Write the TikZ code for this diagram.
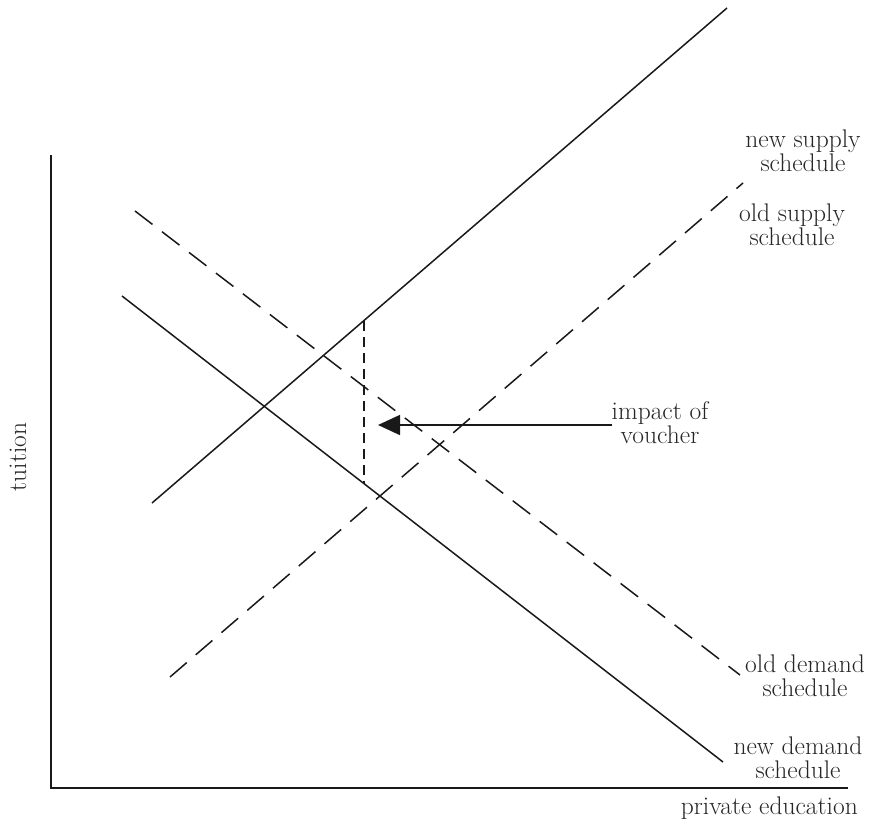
\documentclass[tikz,border=0pt]{standalone}
\usetikzlibrary{arrows.meta}
\begin{document}
\begin{tikzpicture}[x=1pt,y=-1pt,
  ln/.style={line width=1.5pt, black!90},
  dsh/.style={ln, dash pattern=on 22pt off 12pt},
  vdsh/.style={line width=1.3pt, black!90, dash pattern=on 10pt off 6pt},
  lbl/.style={font=\fontsize{25.5}{24}\selectfont, align=center, inner sep=0pt, text=black!85}]
\useasboundingbox (0,0) rectangle (875,825);
% axes
\coordinate (ytop) at (51,155);
\coordinate (org) at (51,788);
\coordinate (xend) at (848,788);
\draw[ln] (ytop) -- (org) -- (xend);
% curves
\coordinate (ns1) at (152,503); \coordinate (ns2) at (727,8);
\coordinate (os1) at (170,677); \coordinate (os2) at (743,183);
\coordinate (od1) at (135,211); \coordinate (od2) at (740,675);
\coordinate (nd1) at (122,296); \coordinate (nd2) at (723,762);
\draw[ln] (ns1) -- (ns2);
\draw[dsh] (os1) -- (os2);
\draw[dsh] (od1) -- (od2);
\draw[ln] (nd1) -- (nd2);
% vertical dashed
\coordinate (v1) at (364,321); \coordinate (v2) at (364,484);
\draw[vdsh] (v1) -- (v2);
% labels
\node[lbl] (lns) at (803,151) {new supply\\schedule};
\node[lbl] (los) at (792,225) {old supply\\schedule};
\node[lbl] (lod) at (805,676) {old demand\\schedule};
\node[lbl] (lnd) at (798,758) {new demand\\schedule};
\node[lbl] (limp) at (660,423) {impact of\\voucher};
\node[lbl, anchor=north east] (lx) at (858,797) {private education};
\node[lbl, rotate=90] (ly) at (18,457) {tuition};
% arrow
\coordinate (tip) at (378,425);
\draw[ln, -{Triangle[length=22pt,width=20pt]}] (612,425) -- (tip);
\end{tikzpicture}
\end{document}
